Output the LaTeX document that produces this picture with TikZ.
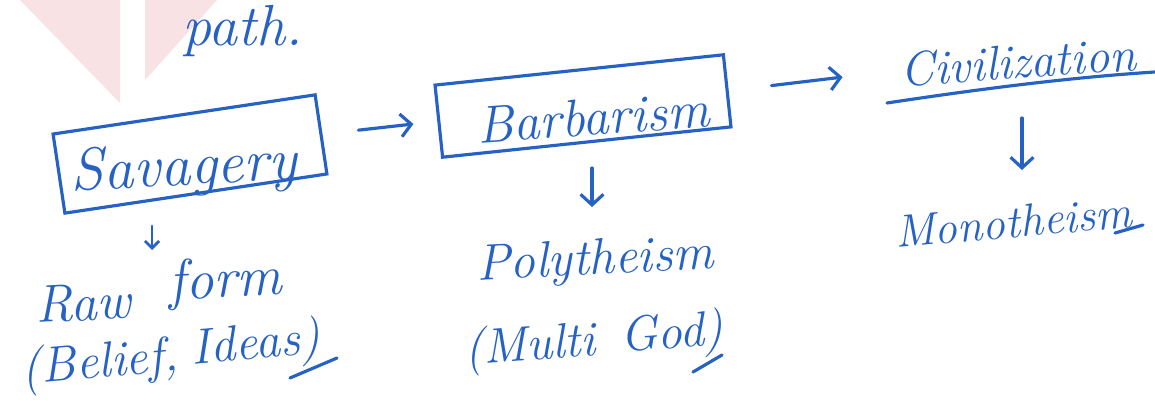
\documentclass[tikz,border=0pt]{standalone}
\usetikzlibrary{arrows.meta}
\definecolor{ink}{RGB}{38,98,196}
\definecolor{wm}{RGB}{248,226,228}
\newcommand\handfont[1]{\fontsize{#1}{#1}\selectfont\itshape}
\begin{document}
\begin{tikzpicture}[x=0.02cm,y=-0.02cm,
  hand/.style={text=ink, inner sep=0pt},
  boxline/.style={draw=ink, line width=1.8pt},
  arr/.style={draw=ink, line width=1.8pt, line cap=round, -{Straight Barb[length=6pt,width=13pt]}},
  smallarr/.style={draw=ink, line width=1.6pt, line cap=round, -{Straight Barb[length=4pt,width=8pt]}},
  uline/.style={draw=ink, line width=1.8pt, line cap=round}]
\useasboundingbox (0,0) rectangle (1155,401);
\clip (0,0) rectangle (1155,401);
\fill[white] (0,0) rectangle (1155,401);
% faint watermark
\fill[wm] (20,0) -- (120,0) -- (120,103) -- cycle;
\fill[wm] (145,0) -- (217,0) -- (145,80) -- cycle;

% texts
\node[hand, font=\handfont{33}, anchor=base] (path) at (243,46) {path.};
\node[hand, font=\handfont{34}, rotate=3] (sav) at (184,170) {Savagery};
\node[hand, font=\handfont{30}, rotate=4] (bar) at (593,117) {Barbarism};
\node[hand, font=\handfont{27.5}, rotate=4] (civ) at (1018,62) {Civilization};
\node[hand, font=\handfont{26}, rotate=5] (mono) at (1013,222) {Monotheism};
\node[hand, font=\handfont{30}, rotate=3] (raw) at (83,303) {Raw};
\node[hand, font=\handfont{32}, rotate=3] (form) at (225,283) {form};
\node[hand, font=\handfont{28.5}, rotate=5] (belief) at (100,365) {(Belief,};
\node[hand, font=\handfont{28.5}, rotate=5] (ideas) at (256,346) {Ideas)};
\node[hand, font=\handfont{29}, rotate=3] (poly) at (595,262) {Polytheism};
\node[hand, font=\handfont{28}, rotate=4] (multi) at (530,348) {(Multi};
\node[hand, font=\handfont{28}, rotate=4] (god) at (672,336) {God)};

% boxes
\node[boxline, rotate=8.5, minimum width=5.3cm, minimum height=1.6cm] (savbox) at (190,154) {};
\node[boxline, rotate=6, minimum width=5.8cm, minimum height=1.45cm] (barbox) at (583,106) {};

% arrows
\draw[arr, shorten <=0.72cm, shorten >=0.48cm] (savbox.east) -- (barbox.west);
\draw[arr, shorten <=0.86cm, shorten >=1.16cm] (barbox.east) -- (civ.west);
\coordinate (d1a) at (152,226); \coordinate (d1b) at (152,250);
\coordinate (d2a) at (592,168); \coordinate (d2b) at (592,207);
\coordinate (d3a) at (1022,118); \coordinate (d3b) at (1022,170);
\draw[smallarr] (d1a) -- (d1b);
\draw[arr] (d2a) -- (d2b);
\draw[arr] (d3a) -- (d3b);

% underlines
\draw[uline] (887,103) .. controls (960,92) and (1060,78) .. (1155,72);
\draw[uline] (1115,233) -- (1143,225);
\draw[uline] (290,378) -- (337,358);
\draw[uline] (693,372) -- (722,355);
\end{tikzpicture}
\end{document}
